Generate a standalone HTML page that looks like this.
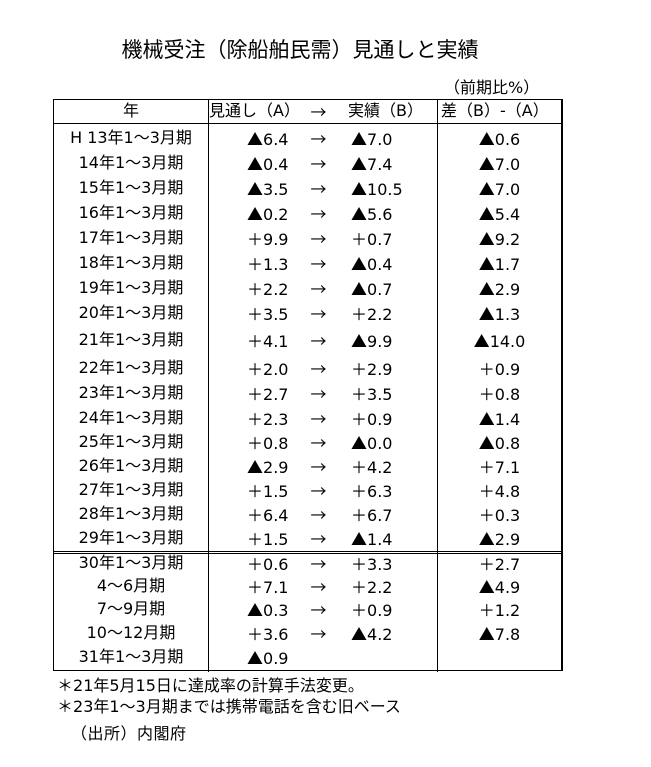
<!DOCTYPE html>
<html>
<head>
<meta charset="utf-8">
<style>
  html,body{margin:0;padding:0;background:#fff;}
  #c{position:relative;width:651px;height:767px;overflow:hidden;background:#fff;color:#000;
     font-family:"DejaVu Sans","Noto Sans CJK JP",sans-serif;font-size:16px;}
  .t{position:absolute;white-space:nowrap;height:22px;line-height:22px;}
  .m{font-family:"Noto Sans CJK JP",sans-serif;}
  .h{position:absolute;background:#000;height:1px;}
  .v{position:absolute;background:#000;width:1px;}
  .c1{left:54px;width:154px;text-align:center;}
  .ca{left:247px;}
  .ar{left:310px;width:17px;text-align:center;font-family:"Noto Sans CJK JP",sans-serif;}
  .cb{left:351px;}
  .c3{left:438px;width:123px;text-align:center;}
</style>
</head>
<body>
<div id="c">
  <div class="t" style="left:0;width:600px;text-align:center;top:36px;height:28px;line-height:28px;font-size:21px;">機械受注（除船舶民需）見通しと実績</div>
  <div class="t" style="left:444px;top:77px;">（前期比%）</div>

  <!-- lines -->
  <div class="h" style="left:53px;top:99px;width:510px;"></div>
  <div class="h" style="left:53px;top:123px;width:510px;"></div>
  <div class="h" style="left:53px;top:551px;width:510px;"></div>
  <div class="h" style="left:53px;top:553px;width:510px;"></div>
  <div class="h" style="left:53px;top:670px;width:510px;"></div>
  <div class="v" style="left:53px;top:99px;height:572px;"></div>
  <div class="v" style="left:208px;top:99px;height:573px;"></div>
  <div class="v" style="left:437px;top:99px;height:573px;"></div>
  <div class="v" style="left:561px;top:99px;height:572px;width:2px;"></div>

  <!-- header -->
  <div class="t c1" style="top:100px;">年</div>
  <div class="t" style="left:209px;top:100px;">見通し（A）</div>
  <div class="t ar" style="top:100px;">→</div>
  <div class="t" style="left:348px;top:100px;">実績（B）</div>
  <div class="t" style="left:441px;top:100px;">差（B）-（A）</div>

  <!-- rows -->
  <div class="t c1" style="top:127px;">H 13年1～3月期</div><div class="t ca" style="top:127px;"><span class="m">▲</span>6.4</div><div class="t ar" style="top:127px;">→</div><div class="t cb" style="top:127px;"><span class="m">▲</span>7.0</div><div class="t c3" style="top:127px;"><span class="m">▲</span>0.6</div>
  <div class="t c1" style="top:152px;">14年1～3月期</div><div class="t ca" style="top:152px;"><span class="m">▲</span>0.4</div><div class="t ar" style="top:152px;">→</div><div class="t cb" style="top:152px;"><span class="m">▲</span>7.4</div><div class="t c3" style="top:152px;"><span class="m">▲</span>7.0</div>
  <div class="t c1" style="top:177px;">15年1～3月期</div><div class="t ca" style="top:177px;"><span class="m">▲</span>3.5</div><div class="t ar" style="top:177px;">→</div><div class="t cb" style="top:177px;"><span class="m">▲</span>10.5</div><div class="t c3" style="top:177px;"><span class="m">▲</span>7.0</div>
  <div class="t c1" style="top:202px;">16年1～3月期</div><div class="t ca" style="top:202px;"><span class="m">▲</span>0.2</div><div class="t ar" style="top:202px;">→</div><div class="t cb" style="top:202px;"><span class="m">▲</span>5.6</div><div class="t c3" style="top:202px;"><span class="m">▲</span>5.4</div>
  <div class="t c1" style="top:227px;">17年1～3月期</div><div class="t ca" style="top:227px;"><span class="m">＋</span>9.9</div><div class="t ar" style="top:227px;">→</div><div class="t cb" style="top:227px;"><span class="m">＋</span>0.7</div><div class="t c3" style="top:227px;"><span class="m">▲</span>9.2</div>
  <div class="t c1" style="top:252px;">18年1～3月期</div><div class="t ca" style="top:252px;"><span class="m">＋</span>1.3</div><div class="t ar" style="top:252px;">→</div><div class="t cb" style="top:252px;"><span class="m">▲</span>0.4</div><div class="t c3" style="top:252px;"><span class="m">▲</span>1.7</div>
  <div class="t c1" style="top:277px;">19年1～3月期</div><div class="t ca" style="top:277px;"><span class="m">＋</span>2.2</div><div class="t ar" style="top:277px;">→</div><div class="t cb" style="top:277px;"><span class="m">▲</span>0.7</div><div class="t c3" style="top:277px;"><span class="m">▲</span>2.9</div>
  <div class="t c1" style="top:302px;">20年1～3月期</div><div class="t ca" style="top:302px;"><span class="m">＋</span>3.5</div><div class="t ar" style="top:302px;">→</div><div class="t cb" style="top:302px;"><span class="m">＋</span>2.2</div><div class="t c3" style="top:302px;"><span class="m">▲</span>1.3</div>
  <div class="t c1" style="top:329px;">21年1～3月期</div><div class="t ca" style="top:329px;"><span class="m">＋</span>4.1</div><div class="t ar" style="top:329px;">→</div><div class="t cb" style="top:329px;"><span class="m">▲</span>9.9</div><div class="t c3" style="top:329px;"><span class="m">▲</span>14.0</div>
  <div class="t c1" style="top:357px;">22年1～3月期</div><div class="t ca" style="top:357px;"><span class="m">＋</span>2.0</div><div class="t ar" style="top:357px;">→</div><div class="t cb" style="top:357px;"><span class="m">＋</span>2.9</div><div class="t c3" style="top:357px;"><span class="m">＋</span>0.9</div>
  <div class="t c1" style="top:382px;">23年1～3月期</div><div class="t ca" style="top:382px;"><span class="m">＋</span>2.7</div><div class="t ar" style="top:382px;">→</div><div class="t cb" style="top:382px;"><span class="m">＋</span>3.5</div><div class="t c3" style="top:382px;"><span class="m">＋</span>0.8</div>
  <div class="t c1" style="top:407px;">24年1～3月期</div><div class="t ca" style="top:407px;"><span class="m">＋</span>2.3</div><div class="t ar" style="top:407px;">→</div><div class="t cb" style="top:407px;"><span class="m">＋</span>0.9</div><div class="t c3" style="top:407px;"><span class="m">▲</span>1.4</div>
  <div class="t c1" style="top:431px;">25年1～3月期</div><div class="t ca" style="top:431px;"><span class="m">＋</span>0.8</div><div class="t ar" style="top:431px;">→</div><div class="t cb" style="top:431px;"><span class="m">▲</span>0.0</div><div class="t c3" style="top:431px;"><span class="m">▲</span>0.8</div>
  <div class="t c1" style="top:455px;">26年1～3月期</div><div class="t ca" style="top:455px;"><span class="m">▲</span>2.9</div><div class="t ar" style="top:455px;">→</div><div class="t cb" style="top:455px;"><span class="m">＋</span>4.2</div><div class="t c3" style="top:455px;"><span class="m">＋</span>7.1</div>
  <div class="t c1" style="top:479px;">27年1～3月期</div><div class="t ca" style="top:479px;"><span class="m">＋</span>1.5</div><div class="t ar" style="top:479px;">→</div><div class="t cb" style="top:479px;"><span class="m">＋</span>6.3</div><div class="t c3" style="top:479px;"><span class="m">＋</span>4.8</div>
  <div class="t c1" style="top:503px;">28年1～3月期</div><div class="t ca" style="top:503px;"><span class="m">＋</span>6.4</div><div class="t ar" style="top:503px;">→</div><div class="t cb" style="top:503px;"><span class="m">＋</span>6.7</div><div class="t c3" style="top:503px;"><span class="m">＋</span>0.3</div>
  <div class="t c1" style="top:527px;">29年1～3月期</div><div class="t ca" style="top:527px;"><span class="m">＋</span>1.5</div><div class="t ar" style="top:527px;">→</div><div class="t cb" style="top:527px;"><span class="m">▲</span>1.4</div><div class="t c3" style="top:527px;"><span class="m">▲</span>2.9</div>

  <div class="t c1" style="top:552px;">30年1～3月期</div><div class="t ca" style="top:552px;"><span class="m">＋</span>0.6</div><div class="t ar" style="top:552px;">→</div><div class="t cb" style="top:552px;"><span class="m">＋</span>3.3</div><div class="t c3" style="top:552px;"><span class="m">＋</span>2.7</div>
  <div class="t c1" style="top:575px;">4～6月期</div><div class="t ca" style="top:575px;"><span class="m">＋</span>7.1</div><div class="t ar" style="top:575px;">→</div><div class="t cb" style="top:575px;"><span class="m">＋</span>2.2</div><div class="t c3" style="top:575px;"><span class="m">▲</span>4.9</div>
  <div class="t c1" style="top:598px;">7～9月期</div><div class="t ca" style="top:598px;"><span class="m">▲</span>0.3</div><div class="t ar" style="top:598px;">→</div><div class="t cb" style="top:598px;"><span class="m">＋</span>0.9</div><div class="t c3" style="top:598px;"><span class="m">＋</span>1.2</div>
  <div class="t c1" style="top:622px;">10～12月期</div><div class="t ca" style="top:622px;"><span class="m">＋</span>3.6</div><div class="t ar" style="top:622px;">→</div><div class="t cb" style="top:622px;"><span class="m">▲</span>4.2</div><div class="t c3" style="top:622px;"><span class="m">▲</span>7.8</div>
  <div class="t c1" style="top:646px;">31年1～3月期</div><div class="t ca" style="top:646px;"><span class="m">▲</span>0.9</div>

  <!-- footnotes -->
  <div class="t" style="left:57px;top:673px;"><span class="m">＊</span>21年5月15日に達成率の計算手法変更。</div>
  <div class="t" style="left:57px;top:694px;"><span class="m">＊</span>23年1～3月期までは携帯電話を含む旧ベース</div>
  <div class="t" style="left:71px;top:723px;letter-spacing:0.5px;">（出所）内閣府</div>
</div>
</body>
</html>
